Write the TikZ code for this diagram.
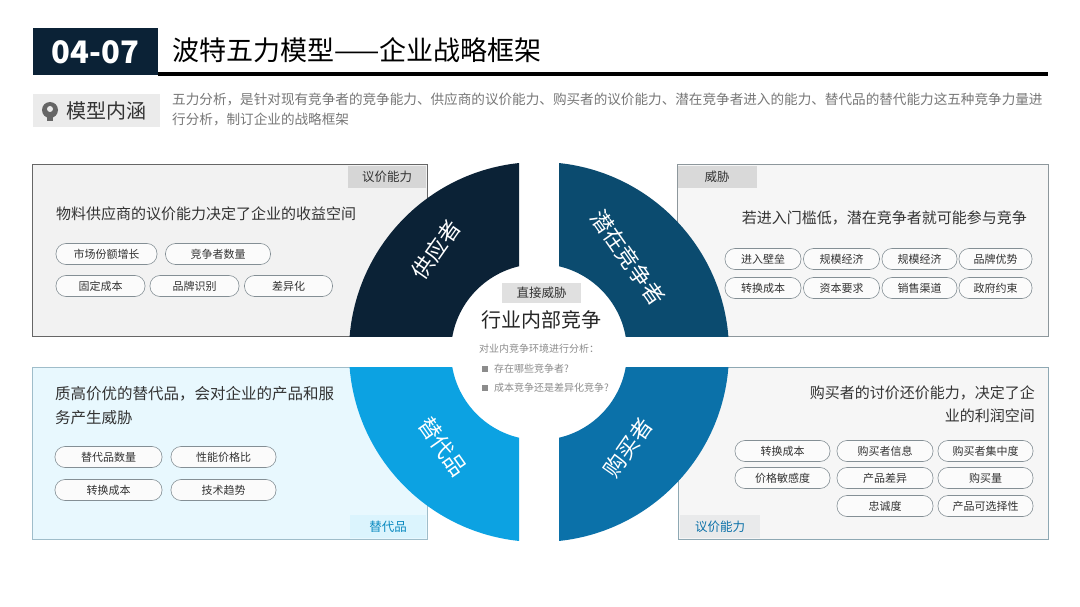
\documentclass[tikz,border=0pt]{standalone}
\usepackage{fontspec}
\setmainfont{Noto Sans CJK SC}
\definecolor{navy}{HTML}{0B2236}
\definecolor{segTR}{HTML}{0B4B6F}
\definecolor{segBL}{HTML}{0CA2E2}
\definecolor{segBR}{HTML}{0B71A9}
\definecolor{txt}{HTML}{333333}
\definecolor{gtxt}{HTML}{777777}
\tikzset{
 x=1pt,y=-1pt,
 pill/.style={draw=black!35!cyan!20!gray, line width=0.6pt, fill=white!60!gray!8, rounded corners=10pt, minimum height=21pt, inner sep=0pt, font=\fontsize{11}{12}\selectfont, text=txt},
 tag/.style={inner sep=0pt, font=\fontsize{12.5}{13}\selectfont},
 seglabel/.style={text=white, font=\fontsize{22}{23}\selectfont},
 ttl/.style={text=txt, font=\fontsize{15}{17}\selectfont, inner sep=0pt}
}
\begin{document}
\begin{tikzpicture}
\useasboundingbox (0,0) rectangle (1080,607);
\fill[white] (0,0) rectangle (1080,607);
% header
\fill[navy] (33,28) rectangle (158,75);
\node[text=white, font=\fontsize{31}{32}\selectfont\bfseries] (num) at (95.5,52) {04-07};
\node[anchor=west, text=black, font=\fontsize{27}{28}\selectfont, inner sep=0pt] (title) at (172,50) {波特五力模型——企业战略框架};
\fill[black] (158,72.5) rectangle (1048,76);
\fill[black!8] (33,94) rectangle (160,127);
\fill[black!60] (50,110) circle (8);
\fill[black!8] (50,109) circle (3);
\fill[black!60] (47,116) rectangle (53,121);
\node[anchor=west, text=txt, font=\fontsize{20}{21}\selectfont, inner sep=0pt] (mx) at (66,111) {模型内涵};
\node[anchor=north west, text=gtxt, font=\fontsize{13.6}{19.5}\selectfont, inner sep=0pt, align=left] (desc) at (172,93) {五力分析，是针对现有竞争者的竞争能力、供应商的议价能力、购买者的议价能力、潜在竞争者进入的能力、替代品的替代能力这五种竞争力量进\\行分析，制订企业的战略框架};
% boxes
\draw[draw=black!60, fill=black!3!blue!2!gray!10, line width=0.8pt] (32,164) rectangle (427,336);
\fill[black!16] (348,166) rectangle (426,188);
\node[tag, text=txt] (t1) at (387,177) {议价能力};
\draw[draw=cyan!20!black!55, fill=cyan!4!gray!8, line width=0.8pt] (677,164) rectangle (1048,336);
\fill[black!15] (678,166) rectangle (757,188);
\node[tag, text=txt] (t2) at (717,177) {威胁};
\draw[draw=cyan!50!black!45, fill=cyan!9, line width=0.8pt] (32,367) rectangle (427,539);
\fill[cyan!14] (350,515) rectangle (426,538);
\node[tag, text=segBL!85!black] (t3) at (388,526.5) {替代品};
\draw[draw=cyan!40!black!55, fill=cyan!5!blue!3!gray!8, line width=0.8pt] (678,367) rectangle (1048,539);
\fill[cyan!10!black!10] (680,515) rectangle (760,538);
\node[tag, text=segBR] (t4) at (720,526.5) {议价能力};
% segments
\begin{scope}
\clip (0,0) rectangle (519,336);
\fill[navy, even odd rule] (539,352) circle (190) (539,352) circle (88);
\end{scope}
\begin{scope}
\clip (559,0) rectangle (1080,336);
\fill[segTR, even odd rule] (539,352) circle (190) (539,352) circle (88);
\end{scope}
\begin{scope}
\clip (0,367) rectangle (519,607);
\fill[segBL, even odd rule] (539,352) circle (190) (539,352) circle (88);
\end{scope}
\begin{scope}
\clip (559,367) rectangle (1080,607);
\fill[segBR, even odd rule] (539,352) circle (190) (539,352) circle (88);
\end{scope}
\node[seglabel, rotate=55] (s1) at (436,250) {供应者};
\node[seglabel, rotate=-55] (s2) at (628,258) {潜在竞争者};
\node[seglabel, rotate=-55] (s3) at (443,447) {替代品};
\node[seglabel, rotate=55] (s4) at (628,448) {购买者};
% center
\fill[black!12] (502,283) rectangle (581,303);
\node[tag, text=txt] (dw) at (541.5,293) {直接威胁};
\node[text=black!85, font=\fontsize{20}{22}\selectfont, inner sep=0pt] (core) at (541,320) {行业内部竞争};
\node[anchor=west, text=black!45, font=\fontsize{10}{11}\selectfont, inner sep=0pt] (c0) at (479,349) {对业内竞争环境进行分析：};
\fill[black!45] (482,366) rectangle (488,372);
\node[anchor=west, text=black!45, font=\fontsize{10}{11}\selectfont, inner sep=0pt] (c1) at (494,369) {存在哪些竞争者?};
\fill[black!45] (482,385) rectangle (488,391);
\node[anchor=west, text=black!45, font=\fontsize{10}{11}\selectfont, inner sep=0pt] (c2) at (494,388) {成本竞争还是差异化竞争?};
% TL content
\node[ttl, anchor=west] (h1) at (56,214) {物料供应商的议价能力决定了企业的收益空间};
\node[pill, minimum width=101pt] (a1) at (106.5,254) {市场份额增长};
\node[pill, minimum width=105pt] (a2) at (218,254) {竞争者数量};
\node[pill, minimum width=89pt] (a3) at (100.5,286) {固定成本};
\node[pill, minimum width=89pt] (a4) at (194.5,286) {品牌识别};
\node[pill, minimum width=88pt] (a5) at (288.5,286) {差异化};
% TR content
\node[ttl, anchor=east] (h2) at (1027,218) {若进入门槛低，潜在竞争者就可能参与竞争};
\node[pill, minimum width=76pt] (b1) at (763,259) {进入壁垒};
\node[pill, minimum width=76pt] (b2) at (841.5,259) {规模经济};
\node[pill, minimum width=75pt] (b3) at (919.5,259) {规模经济};
\node[pill, minimum width=73pt] (b4) at (995.5,259) {品牌优势};
\node[pill, minimum width=76pt] (b5) at (763,288) {转换成本};
\node[pill, minimum width=76pt] (b6) at (841.5,288) {资本要求};
\node[pill, minimum width=75pt] (b7) at (919.5,288) {销售渠道};
\node[pill, minimum width=73pt] (b8) at (995.5,288) {政府约束};
% BL content
\node[ttl, anchor=north west, align=left, font=\fontsize{15.5}{24}\selectfont] (h3) at (55,386) {质高价优的替代品，会对企业的产品和服\\务产生威胁};
\node[pill, minimum width=107pt] (d1) at (108.5,457) {替代品数量};
\node[pill, minimum width=105pt] (d2) at (223.5,457) {性能价格比};
\node[pill, minimum width=107pt] (d3) at (108.5,490) {转换成本};
\node[pill, minimum width=105pt] (d4) at (223.5,490) {技术趋势};
% BR content
\node[ttl, anchor=north east, align=right, font=\fontsize{15}{23}\selectfont] (h4) at (1035,386) {购买者的讨价还价能力，决定了企\\业的利润空间};
\node[pill, minimum width=95pt] (e1) at (782.5,451) {转换成本};
\node[pill, minimum width=96pt] (e2) at (885,451) {购买者信息};
\node[pill, minimum width=95pt] (e3) at (985.5,451) {购买者集中度};
\node[pill, minimum width=95pt] (e4) at (782.5,478) {价格敏感度};
\node[pill, minimum width=96pt] (e5) at (885,478) {产品差异};
\node[pill, minimum width=95pt] (e6) at (985.5,478) {购买量};
\node[pill, minimum width=96pt] (e7) at (885,506) {忠诚度};
\node[pill, minimum width=95pt] (e8) at (985.5,506) {产品可选择性};
\end{tikzpicture}
\end{document}
